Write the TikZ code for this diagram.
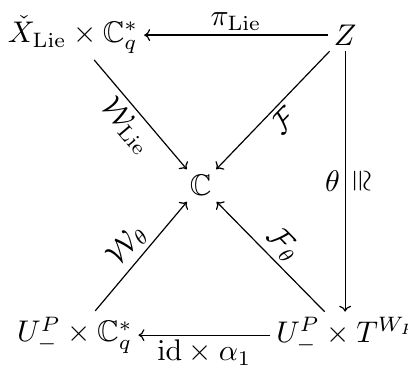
\documentclass[tikz,border=0pt]{standalone}
\usepackage{amsmath,amssymb}
\usepackage{graphicx}
\usetikzlibrary{arrows.meta}
\tikzset{
  obj/.style={inner sep=1.8pt},
  arr/.style={-{To[length=0.7mm,width=1.4mm]},line width=0.4pt},
  lbl/.style={inner sep=1.5pt},
}

\begin{document}
\begin{tikzpicture}
\useasboundingbox (0,0) rectangle (4.8,4.353);
% corners and centre
\node[obj] (xlie) at (0.86,3.94) {$\check{X}_{\mathrm{Lie}}\times\mathbb{C}_q^*$};
\node[obj] (zz)   at (4.06,3.94) {$Z$};
\node[obj] (cc)   at (2.36,2.17) {$\mathbb{C}$};
\node[obj] (ucq)  at (0.88,0.41) {$U_-^P\times\mathbb{C}_q^*$};
\node[obj] (utw)  at (4.09,0.41) {$U_-^P\times T^{W_P}$};
% maps
\draw[arr] (zz) -- node[lbl,above] {$\pi_{\mathrm{Lie}}$} (xlie);
\draw[arr] (xlie) -- node[lbl,sloped,below] {$\mathcal{W}_{\mathrm{Lie}}$} (cc);
\draw[arr] (zz) -- node[lbl,sloped,below] {$\mathcal{F}$} (cc);
\draw[arr] (ucq) -- node[lbl,sloped,above] {$\mathcal{W}_\theta$} (cc);
\draw[arr] (utw) -- node[lbl,sloped,above] {$\mathcal{F}_\theta$} (cc);
\draw[arr] (utw) -- node[lbl,below] {$\mathrm{id}\times\alpha_1$} (ucq);
\draw[arr] (zz) -- node[lbl,left] {$\theta$}
  node[lbl,right] {\rotatebox{-90}{$\cong$}} (zz |- utw.north);
\end{tikzpicture}
\end{document}
